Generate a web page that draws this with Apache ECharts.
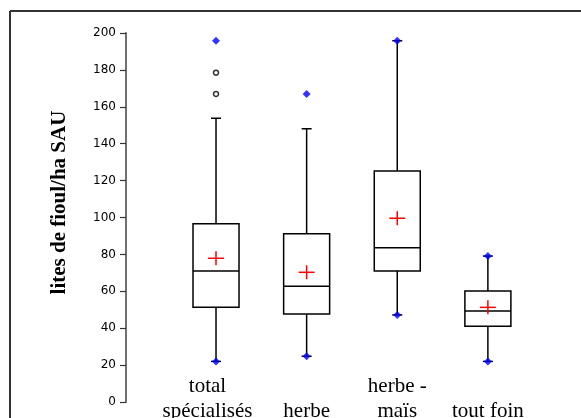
<!DOCTYPE html>
<html>
<head>
<meta charset="utf-8">
<script src="https://cdn.jsdelivr.net/npm/echarts@6/dist/echarts.min.js"></script>
<style>
html,body{margin:0;padding:0;background:#fff;}
#chart{width:581px;height:418px;}
</style>
</head>
<body>
<div id="chart"></div>
<script>
const categories = ['total\nspécialisés', 'herbe', 'herbe -\nmaïs', 'tout foin'];
const whiskerLow = [22, 24.8, 47.2, 22];
const q1 = [51.3, 47.7, 71, 41];
const median = [71, 62.7, 83.6, 49.3];
const q3 = [96.6, 91.2, 125.2, 60.2];
const whiskerHigh = [153.8, 148.1, 195.8, 79.1];
const means = [77.9, 70.3, 99.6, 51.3];
const minValues = [22, 24.8, 47.2, 22];
const maxValues = [195.8, 167, 195.8, 79.1];
const outlierCat = [0, 0];
const outlierVal = [178.5, 167];
const yTicks = [0, 20, 40, 60, 80, 100, 120, 140, 160, 180, 200];

const boxData = categories.map((c, i) => [i, whiskerLow[i], q1[i], median[i], q3[i], whiskerHigh[i], means[i]]);
const extremeData = [];
categories.forEach((c, i) => { extremeData.push([i, minValues[i]]); extremeData.push([i, maxValues[i]]); });
const outlierData = outlierCat.map((c, i) => [c, outlierVal[i]]);

const chart = echarts.init(document.getElementById('chart'));
const BOXW = 46, CAPW = 10, CROSSW = 16, CROSSH = 14;
const labelFont = { fontFamily: 'Liberation Serif', fontSize: 21, lineHeight: 25, color: '#000' };

chart.setOption({
  animation: false,
  backgroundColor: '#fff',
  graphic: [
    { type: 'line', shape: { x1: 10, y1: 11, x2: 581, y2: 11 }, style: { stroke: '#333', lineWidth: 2 } },
    { type: 'line', shape: { x1: 10, y1: 11, x2: 10, y2: 418 }, style: { stroke: '#333', lineWidth: 2 } }
  ],
  grid: { left: 170.7, width: 362.5, top: 33, bottom: 16, containLabel: false, outerBoundsMode: 'none' },
  xAxis: {
    type: 'category',
    data: categories,
    axisLine: { show: false },
    axisTick: { show: false },
    splitLine: { show: false },
    axisLabel: Object.assign({
      interval: 0,
      verticalAlign: 'bottom',
      margin: 22,
      formatter: function (v, i) {
        if (i === 0) return v.split('\n').map(s => '{s|' + s + '}').join('\n');
        return v;
      },
      rich: { s: Object.assign({ padding: [0, 17, 0, 0] }, labelFont) }
    }, labelFont)
  },
  yAxis: {
    type: 'value',
    min: 0, max: 200, interval: 20,
    offset: 44.7,
    name: 'lites de fioul/ha SAU',
    nameLocation: 'middle',
    nameRotate: 90,
    nameGap: 56,
    nameTextStyle: { fontFamily: 'Liberation Serif', fontWeight: 'bold', fontSize: 21, color: '#000', padding: [0, 0, 0, 30] },
    axisLine: { show: true, lineStyle: { color: '#707070', width: 2 } },
    axisTick: { show: true, inside: false, length: 6, lineStyle: { color: '#333', width: 1.2 } },
    splitLine: { show: false },
    axisLabel: {
      margin: 10,
      fontFamily: 'DejaVu Sans',
      fontSize: 12,
      color: '#000',
      formatter: v => yTicks.indexOf(v) >= 0 ? String(v) : ''
    }
  },
  series: [
    {
      type: 'custom',
      data: boxData,
      z: 2,
      renderItem: function (params, api) {
        const i = api.value(0);
        const pWL = api.coord([i, api.value(1)]);
        const pQ1 = api.coord([i, api.value(2)]);
        const pMed = api.coord([i, api.value(3)]);
        const pQ3 = api.coord([i, api.value(4)]);
        const pWH = api.coord([i, api.value(5)]);
        const pMean = api.coord([i, api.value(6)]);
        const x = pQ1[0];
        const ls = { stroke: '#000', lineWidth: 1.5, fill: null };
        return {
          type: 'group',
          children: [
            { type: 'line', shape: { x1: x, y1: pQ3[1], x2: x, y2: pWH[1] }, style: ls },
            { type: 'line', shape: { x1: x, y1: pQ1[1], x2: x, y2: pWL[1] }, style: ls },
            { type: 'line', shape: { x1: x - CAPW / 2, y1: pWH[1], x2: x + CAPW / 2, y2: pWH[1] }, style: ls },
            { type: 'line', shape: { x1: x - CAPW / 2, y1: pWL[1], x2: x + CAPW / 2, y2: pWL[1] }, style: ls },
            { type: 'rect', shape: { x: x - BOXW / 2, y: pQ3[1], width: BOXW, height: pQ1[1] - pQ3[1] }, style: { stroke: '#000', lineWidth: 1.5, fill: '#fff' } },
            { type: 'line', shape: { x1: x - BOXW / 2, y1: pMed[1], x2: x + BOXW / 2, y2: pMed[1] }, style: ls },
            { type: 'line', shape: { x1: x - CROSSW / 2, y1: pMean[1], x2: x + CROSSW / 2, y2: pMean[1] }, style: { stroke: '#ff0000', lineWidth: 1.5 } },
            { type: 'line', shape: { x1: x, y1: pMean[1] - CROSSH / 2, x2: x, y2: pMean[1] + CROSSH / 2 }, style: { stroke: '#ff0000', lineWidth: 1.5 } }
          ]
        };
      }
    },
    {
      type: 'scatter',
      data: extremeData,
      symbol: 'diamond',
      symbolSize: [8, 8],
      itemStyle: { color: '#0000ff' },
      z: 5
    },
    {
      type: 'scatter',
      data: outlierData,
      symbol: 'circle',
      symbolSize: 5,
      itemStyle: { color: '#fff', borderColor: '#000', borderWidth: 1.5 },
      z: 5
    }
  ]
});
</script>
</body>
</html>
